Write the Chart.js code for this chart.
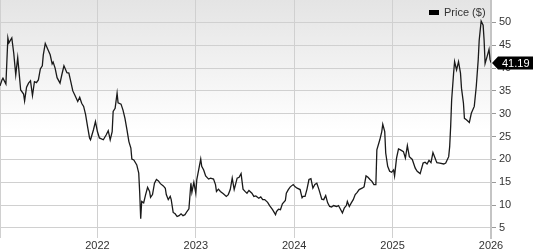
<!DOCTYPE html>
<html>
<head>
<meta charset="utf-8">
<script src="https://cdn.jsdelivr.net/npm/chart.js@4.4.1/dist/chart.umd.min.js"></script>
<style>
  html, body { margin: 0; padding: 0; background: #fff; }
  #wrap { width: 533px; height: 250px; }
</style>
</head>
<body>
<div id="wrap"><canvas id="chart" width="533" height="250"></canvas></div>
<script>
// weekly-ish closing prices (decimal years)
const dates = [
  2021.01, 2021.03, 2021.04, 2021.07, 2021.09, 2021.10, 2021.13, 2021.15, 2021.17, 2021.19,
  2021.20, 2021.22, 2021.25, 2021.26, 2021.28, 2021.30, 2021.32, 2021.34, 2021.36, 2021.38,
  2021.40, 2021.42, 2021.44, 2021.45, 2021.47, 2021.50, 2021.52, 2021.54, 2021.55, 2021.57,
  2021.59, 2021.62, 2021.64, 2021.66, 2021.69, 2021.71, 2021.73, 2021.75, 2021.77, 2021.80,
  2021.82, 2021.84, 2021.86, 2021.88, 2021.90, 2021.92, 2021.93, 2021.96, 2021.98, 2022.00,
  2022.02, 2022.06, 2022.09, 2022.11, 2022.13, 2022.15, 2022.16, 2022.18, 2022.20, 2022.21,
  2022.24, 2022.26, 2022.28, 2022.30, 2022.32, 2022.34, 2022.35, 2022.37, 2022.40, 2022.42,
  2022.43, 2022.44, 2022.45, 2022.47, 2022.49, 2022.51, 2022.53, 2022.54, 2022.56, 2022.58,
  2022.60, 2022.62, 2022.64, 2022.67, 2022.69, 2022.70, 2022.72, 2022.74, 2022.75, 2022.77,
  2022.79, 2022.81, 2022.83, 2022.85, 2022.87, 2022.89, 2022.91, 2022.93, 2022.95, 2022.96,
  2022.98, 2023.00, 2023.01, 2023.03, 2023.05, 2023.06, 2023.08, 2023.10, 2023.13, 2023.15,
  2023.18, 2023.20, 2023.21, 2023.23, 2023.25, 2023.28, 2023.31, 2023.33, 2023.35, 2023.37,
  2023.39, 2023.40, 2023.42, 2023.44, 2023.46, 2023.48, 2023.50, 2023.52, 2023.54, 2023.57,
  2023.59, 2023.61, 2023.64, 2023.66, 2023.68, 2023.70, 2023.73, 2023.75, 2023.78, 2023.81,
  2023.82, 2023.84, 2023.86, 2023.88, 2023.91, 2023.92, 2023.94, 2023.96, 2023.99, 2024.01,
  2024.03, 2024.06, 2024.08, 2024.09, 2024.11, 2024.13, 2024.15, 2024.17, 2024.19, 2024.21,
  2024.23, 2024.25, 2024.26, 2024.28, 2024.30, 2024.32, 2024.34, 2024.36, 2024.38, 2024.40,
  2024.43, 2024.45, 2024.47, 2024.49, 2024.51, 2024.53, 2024.54, 2024.56, 2024.58, 2024.60,
  2024.62, 2024.64, 2024.66, 2024.69, 2024.71, 2024.73, 2024.75, 2024.77, 2024.79, 2024.81,
  2024.83, 2024.84, 2024.87, 2024.89, 2024.90, 2024.92, 2024.93, 2024.95, 2024.97, 2024.99,
  2025.01, 2025.02, 2025.04, 2025.06, 2025.08, 2025.11, 2025.13, 2025.15, 2025.17, 2025.20,
  2025.23, 2025.25, 2025.28, 2025.31, 2025.33, 2025.35, 2025.37, 2025.39, 2025.41, 2025.44,
  2025.45, 2025.48, 2025.52, 2025.54, 2025.57, 2025.58, 2025.59, 2025.60, 2025.62, 2025.63,
  2025.65, 2025.67, 2025.69, 2025.70, 2025.72, 2025.73, 2025.75, 2025.78, 2025.80, 2025.83,
  2025.85, 2025.87, 2025.88, 2025.90, 2025.92, 2025.93, 2025.94, 2025.96, 2025.98, 2025.99,
  2026.00
];
const prices = [
  36.1, 37.4, 37.8, 36.5, 46.6, 45.5, 46.6, 43.2, 38.5, 42.3,
  40.0, 35.2, 34.3, 32.8, 35.8, 36.7, 37.2, 34.0, 37.0, 36.8,
  37.4, 39.8, 40.5, 42.9, 45.4, 43.9, 42.9, 40.9, 41.3, 40.0,
  37.9, 36.7, 38.7, 40.5, 39.0, 38.9, 37.0, 35.0, 34.1, 32.7,
  33.6, 32.3, 31.6, 29.8, 27.2, 24.7, 24.3, 26.5, 28.3, 26.1,
  24.7, 24.3, 25.4, 26.3, 24.3, 26.1, 30.5, 31.2, 34.5, 32.4,
  32.1, 30.8, 29.0, 26.5, 23.9, 22.5, 20.1, 19.9, 18.8, 17.0,
  12.6, 7.0, 10.8, 10.5, 12.3, 13.9, 13.0, 11.7, 12.3, 14.8,
  15.6, 15.3, 14.7, 14.2, 13.7, 12.3, 11.2, 11.9, 11.2, 8.4,
  8.1, 7.5, 7.7, 8.1, 7.7, 7.9, 8.6, 9.2, 14.8, 12.8,
  15.0, 12.6, 15.6, 17.8, 20.1, 18.5, 17.7, 16.4, 15.7, 15.9,
  15.7, 14.5, 13.0, 13.5, 13.0, 12.5, 11.9, 12.3, 13.4, 15.9,
  13.4, 14.2, 15.9, 16.1, 16.9, 13.5, 13.0, 12.6, 13.2, 12.6,
  11.9, 12.0, 11.5, 11.8, 11.2, 11.2, 10.6, 9.9, 9.0, 7.9,
  8.6, 9.1, 9.0, 10.3, 11.0, 12.6, 13.4, 14.0, 14.5, 14.0,
  13.7, 13.4, 11.6, 11.9, 11.9, 13.5, 15.6, 15.8, 13.7, 14.5,
  14.8, 13.5, 12.8, 11.3, 11.2, 12.1, 10.5, 9.7, 9.6, 9.9,
  9.7, 9.9, 9.1, 8.3, 9.4, 9.9, 10.8, 9.7, 10.5, 11.2,
  12.3, 12.8, 13.4, 13.7, 14.0, 16.4, 16.1, 15.6, 15.2, 14.5,
  14.5, 22.1, 24.3, 26.1, 27.7, 26.1, 21.4, 18.5, 17.4, 17.2,
  17.7, 16.4, 20.3, 22.3, 22.1, 21.7, 20.3, 23.0, 20.6, 20.0,
  18.1, 17.4, 16.9, 19.2, 19.4, 19.0, 19.8, 19.3, 21.5, 19.8,
  19.3, 19.2, 19.0, 19.2, 20.6, 22.8, 27.2, 33.0, 38.9, 41.4,
  39.6, 41.4, 38.9, 35.6, 32.3, 29.0, 28.7, 28.1, 30.1, 31.6,
  35.9, 41.8, 46.1, 50.3, 49.4, 46.1, 41.0, 42.5, 44.1, 41.9,
  41.19
];
const yearTicks = [2022, 2023, 2024, 2025, 2026];
const priceTicks = [5, 10, 15, 20, 25, 30, 35, 40, 45, 50];
const seriesName = 'Price ($)';
const lastPrice = prices[prices.length - 1];

const font = "'Liberation Sans', Arial, sans-serif";
const gridColor = '#d0d0d0';
const textColor = '#333';

const backdrop = {
  id: 'backdrop',
  beforeDraw(chart) {
    const { ctx, chartArea: a } = chart;
    const g = ctx.createLinearGradient(0, a.top, 0, a.bottom);
    g.addColorStop(0, '#e4e4e4');
    g.addColorStop(0.55, '#ffffff');
    g.addColorStop(1, '#ffffff');
    ctx.save();
    ctx.fillStyle = g;
    ctx.fillRect(a.left, a.top, a.right - a.left, a.bottom - a.top);
    ctx.strokeStyle = gridColor;
    ctx.lineWidth = 1;
    ctx.beginPath();
    ctx.moveTo(a.left + 0.5, a.top);
    ctx.lineTo(a.left + 0.5, a.bottom);
    ctx.stroke();
    ctx.restore();
  },
  afterDraw(chart) {
    const { ctx, chartArea: a, scales } = chart;
    ctx.save();
    // legend
    ctx.fillStyle = '#000';
    ctx.fillRect(a.right - 62, 10, 10, 5);
    ctx.font = '11px ' + font;
    ctx.fillStyle = textColor;
    ctx.textBaseline = 'middle';
    ctx.textAlign = 'left';
    ctx.fillText(seriesName, a.right - 47, 12.5);
    // last price tag
    const y = Math.round(scales.y.getPixelForValue(lastPrice));
    const x0 = a.right + 1;
    ctx.fillStyle = '#000';
    ctx.beginPath();
    ctx.moveTo(x0, y);
    ctx.lineTo(x0 + 6, y - 6.5);
    ctx.lineTo(chart.width, y - 6.5);
    ctx.lineTo(chart.width, y + 6.5);
    ctx.lineTo(x0 + 6, y + 6.5);
    ctx.closePath();
    ctx.fill();
    ctx.fillStyle = '#fff';
    ctx.font = '11px ' + font;
    ctx.fillText(lastPrice.toFixed(2), x0 + 10, y + 0.5);
    ctx.restore();
  }
};

new Chart(document.getElementById('chart'), {
  type: 'line',
  data: {
    datasets: [{
      label: seriesName,
      data: dates.map((t, i) => ({ x: t, y: prices[i] })),
      borderColor: '#1a1a1a',
      borderWidth: 1.3,
      pointRadius: 0,
      tension: 0,
    }],
  },
  options: {
    responsive: false,
    devicePixelRatio: 1,
    animation: false,
    layout: { padding: 0 },
    plugins: { legend: { display: false }, tooltip: { enabled: false } },
    scales: {
      x: {
        type: 'linear',
        min: 2021.01, max: 2026.0,
        afterBuildTicks: s => { s.ticks = yearTicks.map(v => ({ value: v })); },
        afterFit: s => { s.height = 12; s.paddingLeft = 0; s.paddingRight = 0; },
        grid: { color: gridColor, drawTicks: false },
        border: { display: false },
        ticks: { font: { family: font, size: 11 }, color: textColor, padding: 1, maxRotation: 0, autoSkip: false, callback: v => String(v) },
      },
      y: {
        position: 'right',
        min: 2.8, max: 54.9,
        afterBuildTicks: s => { s.ticks = priceTicks.map(v => ({ value: v })); },
        afterFit: s => { s.width = 42; s.paddingTop = 0; s.paddingBottom = 0; },
        grid: { color: gridColor, tickLength: 5, tickColor: '#999' },
        border: { color: '#c4c4c4', width: 2 },
        ticks: { font: { family: font, size: 11 }, color: textColor, padding: 3 },
      },
    },
  },
  plugins: [backdrop],
});
</script>
</body>
</html>
